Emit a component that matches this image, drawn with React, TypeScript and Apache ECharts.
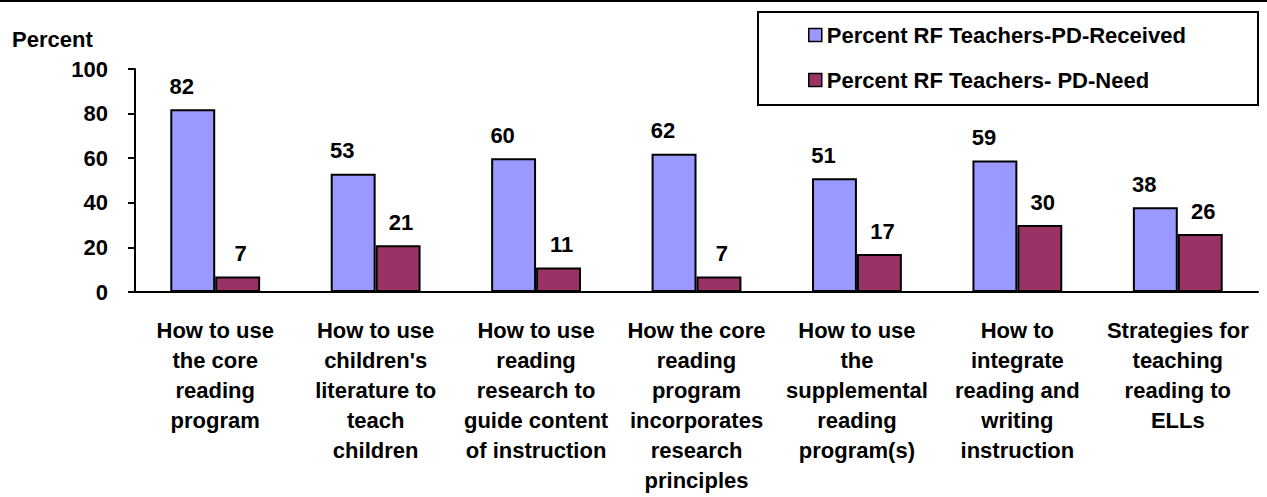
import React, { useEffect, useRef } from "react";
import * as echarts from "echarts";

const categories = [
  "How to use\nthe core\nreading\nprogram",
  "How to use\nchildren's\nliterature to\nteach\nchildren",
  "How to use\nreading\nresearch to\nguide content\nof instruction",
  "How the core\nreading\nprogram\nincorporates\nresearch\nprinciples",
  "How to use\nthe\nsupplemental\nreading\nprogram(s)",
  "How to\nintegrate\nreading and\nwriting\ninstruction",
  "Strategies for\nteaching\nreading to\nELLs",
];
const received = [82, 53, 60, 62, 51, 59, 38];
const need = [7, 21, 11, 7, 17, 30, 26];
const seriesNames = ["Percent RF Teachers-PD-Received", "Percent RF Teachers- PD-Need"];
const yTicks = { min: 0, max: 100, interval: 20 };

const FONT = "Arial, 'Liberation Sans', sans-serif";
const FS = 22;

export default function App() {
  const ref = useRef<HTMLDivElement>(null);
  useEffect(() => {
    if (!ref.current) return;
    const chart = echarts.init(ref.current, undefined, { renderer: "svg" });
    const labelStyle = {
      show: true,
      position: "top",
      distance: 12,
      color: "#000",
      fontWeight: "bold",
      fontSize: FS,
      fontFamily: FONT,
    };
    chart.setOption({
      animation: false,
      backgroundColor: "#fff",
      textStyle: { fontFamily: FONT },
      grid: { left: 135, right: 9, top: 69, bottom: 205, containLabel: false },
      legend: {
        orient: "vertical",
        left: 803,
        top: 19,
        itemGap: 23,
        itemWidth: 13,
        itemHeight: 13,
        icon: "rect",
        itemStyle: { borderColor: "#000", borderWidth: 1.5 },
        textStyle: { color: "#000", fontWeight: "bold", fontSize: FS, fontFamily: FONT, padding: [0, 0, 0, 0] },
        data: seriesNames,
      },
      graphic: [
        { type: "line", shape: { x1: 0, y1: 1, x2: 1267, y2: 1 }, style: { stroke: "#000", lineWidth: 2 } },
        {
          type: "rect",
          shape: { x: 758, y: 12, width: 500, height: 93 },
          style: { fill: "none", stroke: "#000", lineWidth: 2 },
          z: -1,
        },
        {
          type: "text",
          left: 12,
          top: 28,
          style: { text: "Percent", fill: "#000", font: `bold ${FS}px ${FONT}` },
        },
      ],
      xAxis: {
        type: "category",
        data: categories,
        axisLine: { lineStyle: { color: "#000", width: 2 } },
        axisTick: { length: 8, lineStyle: { color: "#000", width: 2 } },
        axisLabel: {
          interval: 0,
          color: "#000",
          fontWeight: "bold",
          fontSize: FS,
          fontFamily: FONT,
          lineHeight: 30,
          margin: 23,
        },
      },
      yAxis: {
        type: "value",
        min: yTicks.min,
        max: yTicks.max,
        interval: yTicks.interval,
        axisLine: { show: true, lineStyle: { color: "#000", width: 2 } },
        axisTick: { show: true, length: 7, lineStyle: { color: "#000", width: 2 } },
        splitLine: { show: false },
        axisLabel: { color: "#000", fontWeight: "bold", fontSize: FS, fontFamily: FONT, margin: 27 },
      },
      series: [
        {
          name: seriesNames[0],
          type: "bar",
          data: received,
          barWidth: "28%",
          barGap: "0%",
          itemStyle: { color: "#9999FF", borderColor: "#000", borderWidth: 2 },
          label: { ...labelStyle, offset: [-11, 0] },
        },
        {
          name: seriesNames[1],
          type: "bar",
          data: need,
          barWidth: "28%",
          itemStyle: { color: "#993366", borderColor: "#000", borderWidth: 2 },
          label: { ...labelStyle, offset: [3, 0] },
        },
      ],
    });
    return () => chart.dispose();
  }, []);
  return <div ref={ref} style={{ position: "absolute", left: 0, top: 0, width: 1267, height: 497 }} />;
}
